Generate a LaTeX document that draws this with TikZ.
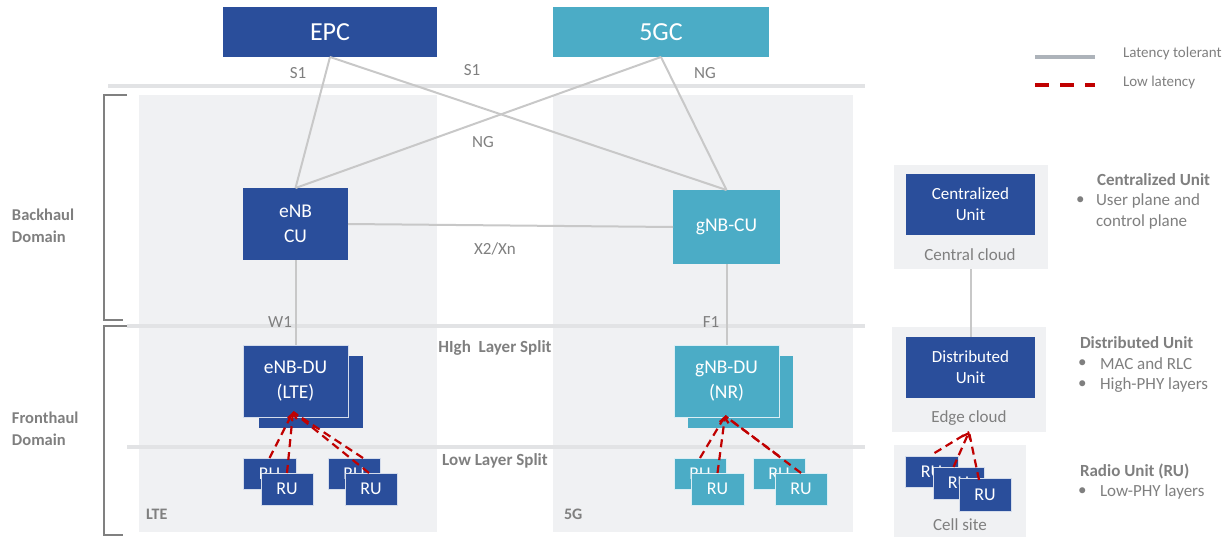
\documentclass[tikz,border=0pt]{standalone}
\usepackage{fontspec}
\setmainfont{Carlito}
\usetikzlibrary{arrows.meta,calc}
\definecolor{dblue}{HTML}{2A4E9B}
\definecolor{teal5g}{HTML}{4BACC6}
\definecolor{panelgray}{HTML}{F0F1F3}
\definecolor{sepgray}{HTML}{E2E3E5}
\definecolor{conngray}{HTML}{C8C8C8}
\definecolor{brgray}{HTML}{808080}
\definecolor{lblgray}{HTML}{7F7F7F}
\definecolor{leggray}{HTML}{ADB3BA}
\definecolor{llred}{HTML}{C00000}
\begin{document}
\begin{tikzpicture}[x=1pt,y=-1pt,
  every node/.style={inner sep=0pt,outer sep=0pt},
  panel/.style={rectangle,fill=panelgray,draw=none},
  sepline/.style={draw=sepgray,line width=3.5pt},
  bracket/.style={draw=brgray,line width=1.5pt},
  conn/.style={draw=conngray,line width=2pt},
  lowlat/.style={draw=llred,line width=2.2pt,dash pattern=on 8pt off 5pt},
  lltip/.style={lowlat,-{Straight Barb[length=5pt,width=9pt]}},
  corebox/.style={rectangle,fill=dblue,text=white,font={\fontsize{26}{30}\selectfont}},
  nodebox/.style={rectangle,fill=dblue,text=white,align=center,font={\fontsize{19.5}{25}\selectfont}},
  frontbox/.style={nodebox,draw=white!80!dblue,line width=0.8pt},
  rubox/.style={rectangle,fill=dblue,text=white,draw=white!80!dblue,line width=0.8pt,font={\fontsize{18}{20}\selectfont}},
  cloudbox/.style={rectangle,fill=dblue,text=white,align=center,font={\fontsize{17}{21}\selectfont}},
  lbl/.style={text=lblgray,font={\fontsize{17}{21}\selectfont}},
  leglbl/.style={text=lblgray,font={\fontsize{15}{18}\selectfont},anchor=west},
  head/.style={text=lblgray,font={\bfseries\fontsize{17}{21}\selectfont}},
  domtxt/.style={text=lblgray,align=left,anchor=west,font={\bfseries\fontsize{16.5}{22}\selectfont}},
  bul/.style={text=lblgray,font={\fontsize{17}{21}\selectfont},anchor=west}
]
\useasboundingbox (0,0) rectangle (1230,538);

% panels
\node[panel,minimum width=298pt,minimum height=437pt] (ltep) at (288,313.5) {};
\node[panel,minimum width=300pt,minimum height=437pt] (fgp) at (703,313.5) {};
\node[panel,minimum width=154pt,minimum height=104pt] (ccp) at (971,217) {};
\node[panel,minimum width=154pt,minimum height=105pt] (ecp) at (969,379.5) {};
\node[panel,minimum width=132pt,minimum height=92pt] (csp) at (960,491) {};

% separator lines
\coordinate (s0a) at (108,86);  \coordinate (s0b) at (865,86);
\coordinate (s1a) at (127,326); \coordinate (s1b) at (865,326);
\coordinate (s2a) at (127,447); \coordinate (s2b) at (865,447);
\draw[sepline] (s0a) -- (s0b);
\draw[sepline] (s1a) -- (s1b);
\draw[sepline] (s2a) -- (s2b);

% brackets
\coordinate (b1a) at (127,95); \coordinate (b1b) at (104,95);
\coordinate (b1c) at (104,320); \coordinate (b1d) at (123,320);
\coordinate (b2a) at (127,326); \coordinate (b2b) at (104,326);
\coordinate (b2c) at (104,535); \coordinate (b2d) at (123,535);
\draw[bracket] (b1a) -- (b1b) -- (b1c) -- (b1d);
\draw[bracket] (b2a) -- (b2b) -- (b2c) -- (b2d);

% core boxes
\node[corebox,minimum width=214pt,minimum height=50pt] (epc) at (330,32) {EPC};
\node[corebox,fill=teal5g,minimum width=216pt,minimum height=50pt] (fgc) at (661,32) {5GC};

% CU boxes
\node[nodebox,minimum width=105pt,minimum height=72pt] (enbcu) at (295.5,224) {eNB\\CU};
\node[nodebox,fill=teal5g,minimum width=107pt,minimum height=74pt] (gnbcu) at (726.5,227) {gNB-CU};

% DU boxes
\node[nodebox,minimum width=104pt,minimum height=72pt] (enbdub) at (311,392) {};
\node[frontbox,minimum width=105pt,minimum height=72pt] (enbdu) at (295.5,381) {eNB-DU\\(LTE)};
\node[nodebox,fill=teal5g,minimum width=105pt,minimum height=72pt] (gnbdub) at (740.5,392) {};
\node[frontbox,fill=teal5g,draw=white!80!teal5g,minimum width=105pt,minimum height=72pt] (gnbdu) at (726.5,381) {gNB-DU\\(NR)};

% connectors (latency tolerant)
\draw[conn] (epc.south) -- (enbcu.north);
\draw[conn] (epc.south) -- (gnbcu.north);
\draw[conn] (fgc.south) -- (enbcu.north);
\draw[conn] (fgc.south) -- (gnbcu.north);
\draw[conn] (enbcu.east) -- (gnbcu.west);
\draw[conn] (enbcu.south) -- (enbdu.north);
\draw[conn] (gnbcu.south) -- (gnbdu.north);

% LTE RUs
\node[rubox,minimum width=53pt,minimum height=31pt] (ru1b) at (269.5,473.5) {RU};
\node[rubox,minimum width=52pt,minimum height=32pt] (ru1f) at (287,489) {RU};
\node[rubox,minimum width=52pt,minimum height=31pt] (ru2b) at (354,473.5) {RU};
\node[rubox,minimum width=52pt,minimum height=32pt] (ru2f) at (371,489) {RU};
% 5G RUs
\node[rubox,fill=teal5g,draw=white!80!teal5g,minimum width=52pt,minimum height=31pt] (ru3b) at (700,473.5) {RU};
\node[rubox,fill=teal5g,draw=white!80!teal5g,minimum width=53pt,minimum height=32pt] (ru3f) at (717.5,489) {RU};
\node[rubox,fill=teal5g,draw=white!80!teal5g,minimum width=52pt,minimum height=31pt] (ru4b) at (779,473.5) {RU};
\node[rubox,fill=teal5g,draw=white!80!teal5g,minimum width=52pt,minimum height=32pt] (ru4f) at (801,489) {RU};

% low latency LTE
\coordinate (ltap) at ([yshift=5pt,xshift=-2.5pt]enbdu.south);
\draw[lowlat] (ru1b.north) -- (ltap);
\draw[lltip] (ru1f.north) -- (ltap);
\draw[lowlat] ([xshift=9pt]ru2b.north) -- (ltap);
\draw[lowlat] ([xshift=-2pt]ru2f.north) -- (ltap);
% low latency 5G
\coordinate (fgap) at ([yshift=1pt,xshift=-1.5pt]gnbdu.south);
\draw[lowlat] (ru3b.north) -- (fgap);
\draw[lltip] (ru3f.north) -- (fgap);
\draw[lowlat] ([yshift=2pt]ru4b.north) -- (fgap);
\draw[lowlat] (ru4f.north) -- (fgap);

% right side cloud
\node[cloudbox,minimum width=129pt,minimum height=61pt] (cu) at (970.5,204.5) {Centralized\\Unit};
\node[cloudbox,minimum width=129pt,minimum height=61pt] (du) at (970.5,367.5) {Distributed\\Unit};
\draw[conn] (ccp.south) -- (ccp.south |- du.north);
\node[lbl] (cctxt) at (970,255) {Central cloud};
\node[lbl] (ectxt) at (969,418) {Edge cloud};
\node[rubox,minimum width=53pt,minimum height=31pt] (cru1) at (931.5,471.5) {RU};
\node[rubox,minimum width=51pt,minimum height=32pt] (cru2) at (958.5,483) {RU};
\node[rubox,minimum width=52pt,minimum height=33pt] (cru3) at (985,494.5) {RU};
\node[lbl] (cstxt) at (960,525) {Cell site};
\coordinate (csap) at (ecp.south);
\draw[lowlat] ([xshift=3pt,yshift=3pt]cru1.north) -- (csap);
\draw[lltip] ([xshift=-5pt]cru2.north) -- (csap);
\draw[lowlat] ([xshift=-6pt,yshift=-2pt]cru3.north) -- (csap);

% labels on connectors
\node[lbl] (ls1a) at (298,73) {S1};
\node[lbl] (ls1b) at (472,70) {S1};
\node[lbl] (lnga) at (705,73) {NG};
\node[lbl] (lngb) at (483,142) {NG};
\node[lbl] (lx2) at (495,249) {X2/Xn};
\node[lbl] (lw1) at (280,322) {W1};
\node[lbl] (lf1) at (711,322) {F1};
\node[head] (lhls) at (495,348) {HIgh\ \ Layer Split};
\node[head] (llls) at (495,461) {Low Layer Split};
\node[head,anchor=west,font={\bfseries\fontsize{16}{20}\selectfont}] (llte) at (146,514) {LTE};
\node[head,anchor=west,font={\bfseries\fontsize{16}{20}\selectfont}] (l5g) at (564,514) {5G};

% domains
\node[domtxt] (bhd) at (12,226) {Backhaul\\Domain};
\node[domtxt] (fhd) at (12,429) {Fronthaul\\Domain};

% right-hand descriptions
\node[head,anchor=west] (hcu) at (1097,180) {Centralized Unit};
\node[bul] (bcu1) at (1076,201) {•};
\node[bul] (tcu1) at (1096,201) {User plane and};
\node[bul] (tcu2) at (1096,222) {control plane};
\node[head,anchor=west] (hdu) at (1080,343) {Distributed Unit};
\node[bul] (bdu1) at (1078,364) {•};
\node[bul] (tdu1) at (1100,364) {MAC and RLC};
\node[bul] (bdu2) at (1078,385) {•};
\node[bul] (tdu2) at (1100,385) {High-PHY layers};
\node[head,anchor=west] (hru) at (1080,471) {Radio Unit (RU)};
\node[bul] (bru1) at (1078,492) {•};
\node[bul] (tru1) at (1100,492) {Low-PHY layers};

% legend
\coordinate (lg1a) at (1035,57); \coordinate (lg1b) at (1095,57);
\coordinate (lg2a) at (1035,85); \coordinate (lg2b) at (1095,85);
\draw[draw=leggray,line width=4pt] (lg1a) -- (lg1b);
\draw[draw=llred,line width=4pt,dash pattern=on 14pt off 11pt] (lg2a) -- (lg2b);
\node[leglbl] (lgt1) at (1123,54) {Latency tolerant};
\node[leglbl] (lgt2) at (1123,82) {Low latency};
\end{tikzpicture}
\end{document}
